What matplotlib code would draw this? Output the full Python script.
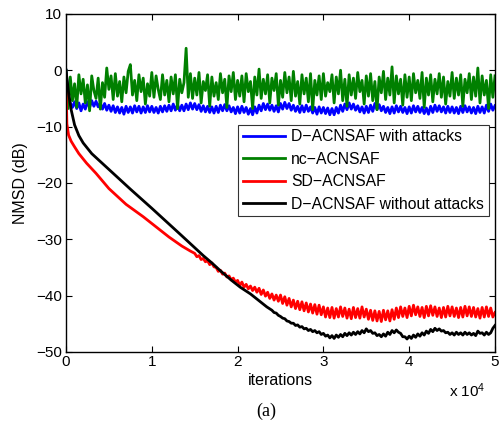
import numpy as np
import matplotlib
matplotlib.use("Agg")
import matplotlib.pyplot as plt
from matplotlib.ticker import FuncFormatter

plt.rcParams['font.family'] = ['Liberation Sans', 'DejaVu Sans']
plt.rcParams['mathtext.fontset'] = 'custom'
plt.rcParams['mathtext.rm'] = 'Liberation Sans'
plt.rcParams['mathtext.it'] = 'Liberation Sans'

labels = ["D\u2212ACNSAF with attacks", "nc\u2212ACNSAF", "SD\u2212ACNSAF",
          "D\u2212ACNSAF without attacks"]

step = 250
grid = np.arange(0, 50001, step)

green_vals = [
    0.0, -6.8, -1.2, -5.4, -2.4, -6.6, -0.8, -4.2, -1.6, -5.8,
    -2.6, -7.2, -1.0, -3.6, -5.0, -1.4, -6.9, -2.2, -4.8, 0.4,
    -3.4, -1.0, -5.2, -0.6, -4.6, -2.0, -5.6, -1.2, -4.0, -0.2,
    1.0, -4.4, -1.8, -5.4, -0.8, -3.8, -1.4, -6.0, -2.4, -4.6,
    -0.4, -4.8, -1.0, -3.4, -5.2, -0.8, -4.4, -1.8, -5.6, -1.2,
    -4.2, -0.8, -6.8, -1.6, -4.0, -2.2, 3.9, -4.8, -0.6, -5.0,
    -1.4, -4.4, -0.4, -5.8, -2.0, -3.6, -0.8, -6.4, -1.2, -4.6,
    -2.2, -5.2, -0.6, -4.0, -1.6, -6.6, -1.0, -3.8, -0.4, -5.2,
    -1.8, -4.6, -1.0, -5.6, -0.6, -3.8, -2.0, -6.8, -1.2, -4.4,
    0.2, -5.0, -1.6, -4.2, -0.8, -5.8, -1.4, -3.6, -0.6, -6.2,
    -1.8, -4.8, -0.4, -4.0, -1.2, -5.4, -0.2, -4.6, -2.0, -6.0,
    -0.8, -4.2, -1.4, -5.6, -0.6, -7.0, -1.8, -4.4, -1.0, -5.2,
    -0.6, -4.6, -2.2, -3.8, -0.8, -5.8, -1.2, -4.2, 0.0, -5.4,
    -1.6, -6.4, -0.8, -4.4, -1.4, -5.0, -0.4, -3.8, -1.8, -6.0,
    -1.0, -4.6, -0.6, -5.4, -2.0, -7.0, -1.2, -4.0, -0.2, -5.2,
    -1.4, -4.4, 0.6, -5.8, -1.0, -4.2, -1.6, -6.2, -0.8, -4.8,
    -1.2, -5.4, -0.6, -4.0, -1.8, -5.0, -0.4, -6.6, -1.4, -4.4,
    -0.8, -5.6, -1.6, -4.2, -0.6, -4.8, -1.2, -6.0, -2.0, -4.6,
    -0.4, -5.0, -1.4, -4.4, -0.8, -6.4, -1.6, -4.0, -0.6, -5.2,
    -1.2, -4.6, 0.4, -5.8, -1.0, -4.4, -1.8, -6.8, -0.8, -4.8,
    -1.0]

blue_vals = [
    0.0, -4.5, -5.8, -6.6, -5.6, -6.8, -5.8, -7.2, -6.0, -6.9,
    -5.6, -6.6, -5.4, -6.4, -5.5, -6.5, -5.8, -6.9, -5.9, -7.1,
    -6.2, -7.3, -6.3, -7.5, -6.5, -7.6, -6.6, -7.8, -6.4, -7.5,
    -6.5, -7.6, -6.3, -7.4, -6.4, -7.6, -6.5, -7.5, -6.3, -7.4,
    -6.4, -7.5, -6.6, -7.6, -6.4, -7.4, -6.3, -7.3, -6.2, -7.2,
    -6.0, -7.1, -6.1, -7.2, -6.2, -7.2, -6.0, -7.0, -5.8, -6.9,
    -5.9, -7.0, -6.1, -7.3, -6.3, -7.4, -6.4, -7.5, -6.5, -7.6,
    -6.4, -7.5, -6.2, -7.2, -6.1, -7.2, -6.3, -7.4, -6.6, -7.7,
    -6.5, -7.6, -6.4, -7.5, -6.6, -7.8, -6.8, -7.9, -6.5, -7.6,
    -6.2, -7.2, -5.9, -7.0, -6.0, -7.1, -6.2, -7.3, -6.3, -7.4,
    -5.9, -6.9, -5.7, -6.8, -5.9, -7.1, -6.2, -7.3, -6.4, -7.5,
    -6.3, -7.4, -6.2, -7.3, -6.5, -7.6, -6.6, -7.8, -6.5, -7.6,
    -6.6, -7.7, -6.7, -7.9, -6.8, -7.9, -6.6, -7.6, -6.2, -7.3,
    -6.0, -7.0, -5.8, -6.9, -6.0, -7.1, -6.3, -7.4, -6.5, -7.6,
    -6.4, -7.5, -6.2, -7.3, -5.9, -7.0, -6.1, -7.2, -6.4, -7.5,
    -6.6, -7.7, -6.5, -7.6, -6.3, -7.4, -6.4, -7.5, -6.6, -7.7,
    -6.5, -7.6, -6.3, -7.4, -6.4, -7.5, -6.6, -7.7, -6.7, -7.8,
    -6.4, -7.5, -6.2, -7.3, -6.3, -7.4, -6.5, -7.6, -6.4, -7.5,
    -6.5, -7.6, -6.6, -7.7, -6.4, -7.5, -6.3, -7.4, -6.5, -7.6,
    -6.6, -7.7, -6.4, -7.5, -6.5, -7.6, -6.2, -7.3, -6.0, -7.1,
    -6.3]

red_head_x = [0, 100, 300, 600, 1000, 1500, 2400, 3500, 5000, 7000, 9000,
              10500, 12000, 13500, 14500]
red_head_y = [-1.0, -9.5, -11.5, -12.6, -13.6, -14.8, -16.5, -18.3, -21.0,
              -23.8, -26.0, -27.8, -29.6, -31.2, -32.1]
red_tail_y = [
    -32.5, -33.1, -32.9, -33.6, -33.4, -34.0, -33.8, -34.5, -34.2, -34.9,
    -35.0, -35.7, -35.5, -36.2, -36.0, -36.7, -36.5, -37.2, -36.9, -37.6,
    -37.3, -38.2, -37.6, -38.5, -38.0, -38.8, -38.3, -39.1, -38.5, -39.4,
    -38.7, -39.8, -39.0, -40.1, -39.4, -40.5, -39.7, -40.8, -39.9, -41.0,
    -39.9, -41.4, -40.2, -41.7, -40.5, -42.0, -40.8, -42.3, -41.0, -42.5,
    -41.1, -42.7, -41.3, -42.9, -41.5, -43.1, -41.6, -43.3, -41.7, -43.4,
    -42.0, -43.8, -42.2, -43.9, -42.1, -44.0, -42.3, -43.8, -42.0, -43.7,
    -42.2, -44.0, -42.4, -44.1, -42.1, -43.9, -42.3, -44.0, -42.0, -43.8,
    -42.4, -44.2, -42.6, -44.4, -42.7, -44.5, -42.8, -44.6, -42.6, -44.3,
    -42.7, -44.5, -42.5, -44.2, -42.2, -43.9, -42.0, -43.7, -42.2, -43.9,
    -41.9, -43.6, -41.7, -43.4, -42.0, -43.7, -42.1, -43.9, -41.9, -43.6,
    -41.8, -43.5, -42.0, -43.7, -42.2, -43.9, -42.1, -43.8, -41.9, -43.6,
    -42.0, -43.7, -42.2, -43.9, -42.1, -43.8, -41.9, -43.6, -42.0, -43.7,
    -42.1, -43.8, -42.3, -44.0, -42.1, -43.8, -42.0, -43.7, -42.2, -43.8,
    -43.0]

black_head_x = [0, 300, 600, 1000, 1500, 2000, 3000, 5000, 7500, 10000,
                13300, 16000, 17000, 18000, 19300, 20300, 21500, 23400]
black_head_y = [0.0, -4.0, -7.0, -9.7, -11.6, -12.9, -14.8, -17.6, -21.1,
                -24.5, -29.1, -32.9, -34.2, -35.6, -37.3, -38.5, -39.7, -42.0]
black_tail_y = [
    -42.6, -43.0, -43.1, -43.5, -43.7, -44.0, -44.1, -44.5, -44.6, -44.9,
    -44.9, -45.3, -45.2, -45.6, -45.5, -45.9, -45.8, -46.2, -46.0, -46.4,
    -46.2, -46.6, -46.4, -46.9, -46.7, -47.2, -47.0, -47.5, -47.1, -47.6,
    -47.0, -47.4, -46.9, -47.3, -46.7, -47.1, -46.6, -47.0, -46.5, -46.9,
    -46.4, -46.8, -46.2, -46.6, -45.9, -46.4, -46.2, -46.7, -46.6, -47.1,
    -46.9, -47.3, -46.8, -47.2, -46.5, -46.9, -46.2, -46.6, -46.1, -46.5,
    -46.7, -47.3, -47.3, -47.7, -47.2, -47.6, -47.0, -47.4, -46.8, -47.2,
    -46.6, -47.0, -46.3, -46.7, -46.0, -46.4, -45.8, -46.2, -45.9, -46.3,
    -46.2, -46.6, -46.5, -46.9, -46.6, -47.0, -46.5, -46.9, -46.6, -47.0,
    -46.5, -46.9, -46.6, -47.0, -46.7, -47.1, -46.3, -46.7, -46.6, -47.0,
    -46.5, -46.9, -46.6, -45.8, -45.3]

red_x = np.concatenate([red_head_x, np.arange(15000, 50001, step)])
red_y = np.concatenate([red_head_y, red_tail_y])
black_x = np.concatenate([black_head_x, np.arange(24000, 50001, step)])
black_y = np.concatenate([black_head_y, black_tail_y])

fig = plt.figure(figsize=(5.0, 4.21), dpi=100)
ax = fig.add_axes([0.132, 0.164, 0.858, 0.803])

lw = 2.0
ax.plot(grid, blue_vals, color=(0, 0, 1), lw=lw, label=labels[0])
ax.plot(grid, green_vals, color=(0, 0.5, 0), lw=lw, label=labels[1])
ax.plot(red_x, red_y, color=(1, 0, 0), lw=lw, label=labels[2])
ax.plot(black_x, black_y, color='black', lw=lw, label=labels[3])

ax.set_xlim(0, 50000)
ax.set_ylim(-50, 10)
ax.set_xticks(np.arange(0, 50001, 10000))
ax.set_yticks(np.arange(-50, 11, 10))
ax.xaxis.set_major_formatter(FuncFormatter(lambda v, p: f"{int(round(v / 1e4))}"))
ax.tick_params(direction='in', top=True, right=True, length=4, width=0.8,
               labelsize=11)
ax.tick_params(axis='x', pad=2.5)
ax.tick_params(axis='y', pad=3)
for s in ax.spines.values():
    s.set_linewidth(1.0)

ax.set_ylabel("NMSD (dB)", fontsize=11.5)
ax.yaxis.set_label_coords(-0.088, 0.5)
ax.set_xlabel("iterations", fontsize=11.5)
ax.xaxis.set_label_coords(0.5, -0.062)
fig.text(0.898, 0.057, r"x 10$^{4}$", fontsize=11, ha='left', va='baseline')
fig.text(0.532, 0.024, "(a)", fontsize=13, ha='center', va='center',
         family=['Liberation Serif', 'DejaVu Serif'])

leg = ax.legend(loc='upper right', bbox_to_anchor=(0.986, 0.672), fontsize=11.3,
                frameon=True, fancybox=False, edgecolor='black',
                handlelength=2.7, handletextpad=0.4, borderpad=0.3,
                labelspacing=0.47, borderaxespad=0)
leg.get_frame().set_linewidth(0.8)

fig.savefig("out.png", dpi=100)
